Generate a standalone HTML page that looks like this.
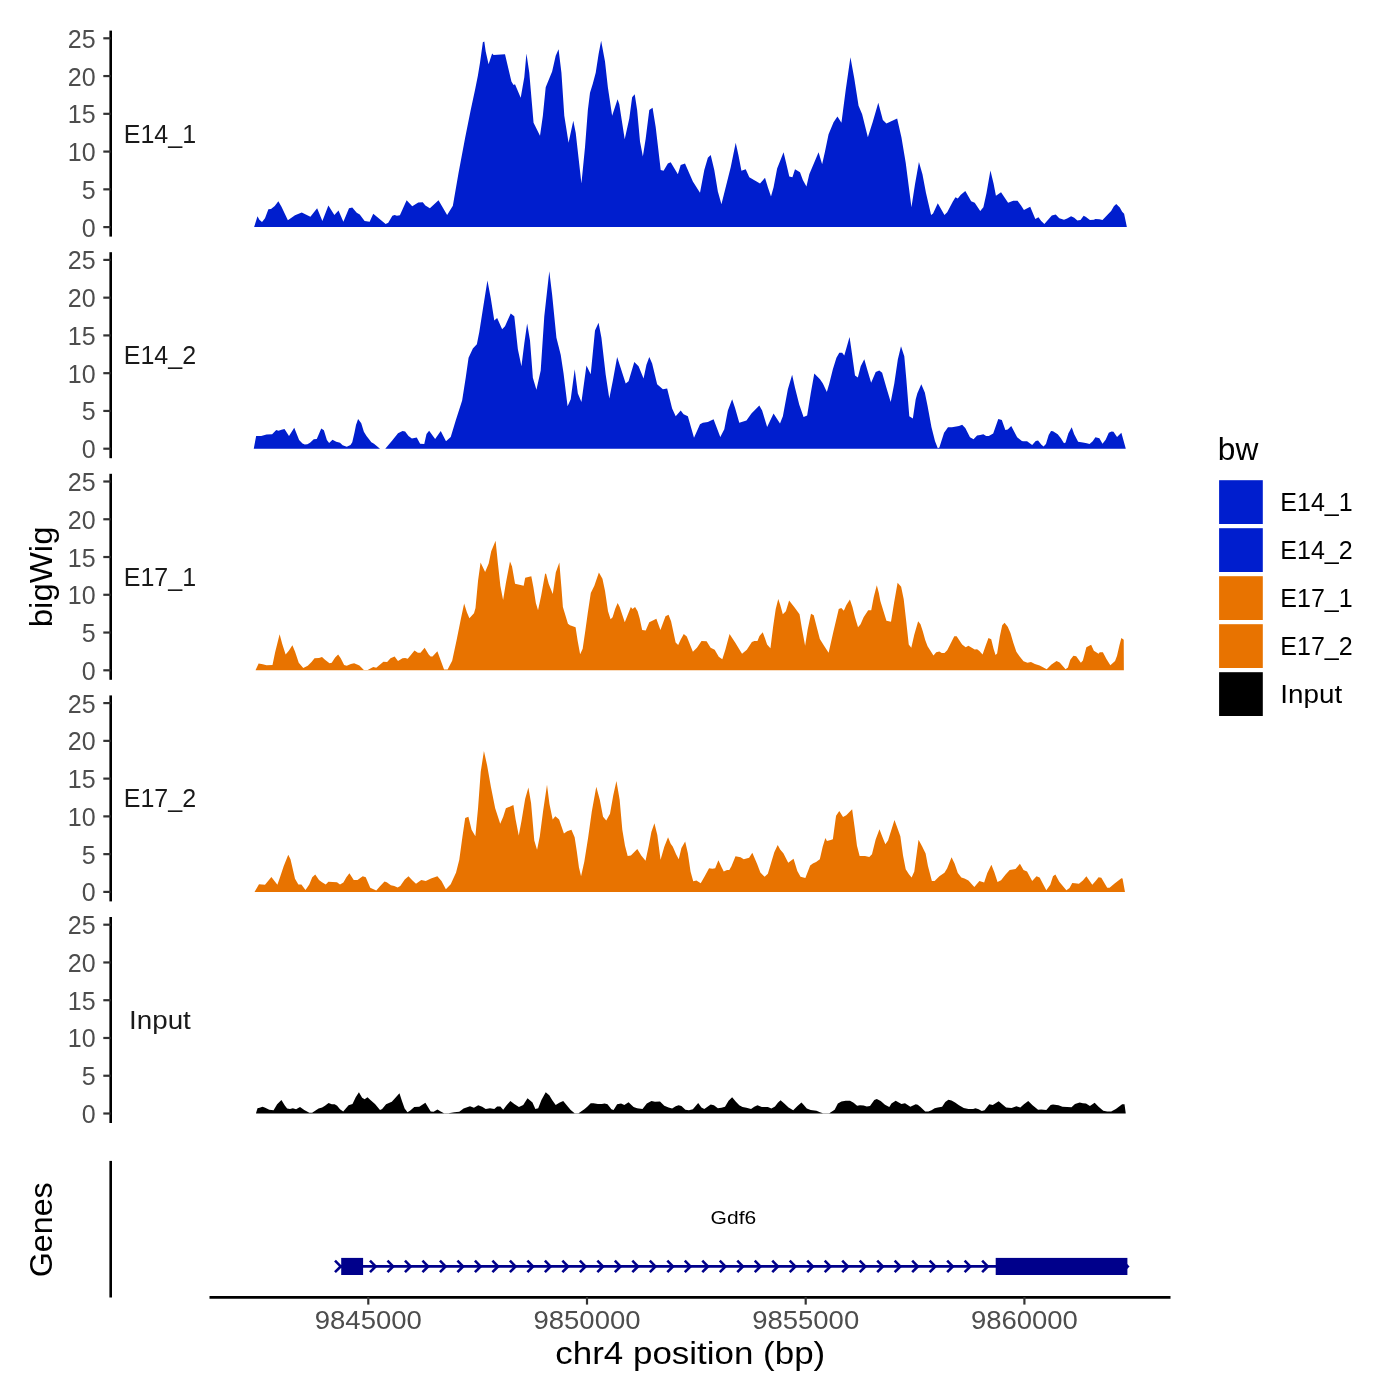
<!DOCTYPE html>
<html><head><meta charset="utf-8"><style>html,body{margin:0;padding:0;background:#fff;}svg{display:block;will-change:transform;}</style></head>
<body><svg width="1400" height="1400" viewBox="0 0 1400 1400">
<rect width="1400" height="1400" fill="#ffffff"/>
<path d="M254.13,227.10 L254.13,227.10 L257.50,216.15 L259.38,219.75 L262.00,222.00 L265.00,218.25 L268.38,209.25 L271.00,208.88 L274.75,205.88 L278.35,201.23 L281.50,206.63 L287.88,220.13 L295.00,215.25 L301.75,212.40 L310.38,216.75 L317.13,208.35 L322.38,220.88 L328.38,205.50 L334.38,214.88 L338.50,210.38 L343.38,221.63 L349.00,208.35 L352.25,207.38 L356.75,212.63 L359.75,214.50 L364.63,221.10 L369.65,221.85 L373.25,213.75 L385.63,223.88 L388.25,222.75 L392.38,215.63 L394.63,214.88 L396.88,215.85 L399.88,215.25 L406.63,200.25 L412.25,206.25 L418.25,202.50 L422.75,202.35 L425.38,205.50 L429.88,208.35 L438.50,200.25 L447.14,215.00 L452.86,205.71 L458.57,172.86 L465.00,138.57 L470.71,110.00 L475.00,90.00 L477.86,75.71 L480.00,62.86 L482.86,42.14 L484.29,41.43 L485.71,51.43 L488.57,64.29 L492.14,53.57 L493.57,55.00 L505.00,54.29 L511.43,81.43 L513.57,85.00 L515.00,84.29 L520.71,97.86 L524.29,77.14 L526.43,53.57 L529.29,72.86 L533.57,122.86 L540.00,135.71 L542.86,115.71 L545.71,87.14 L552.14,71.43 L555.71,55.71 L558.57,49.29 L561.43,72.86 L564.29,115.71 L568.57,142.86 L573.29,120.71 L575.71,132.86 L581.43,183.57 L585.00,147.14 L587.86,110.00 L590.00,92.86 L592.86,83.57 L595.71,72.86 L598.57,54.29 L601.14,40.71 L605.00,61.43 L607.86,87.14 L612.14,115.71 L617.57,99.29 L619.29,104.29 L624.71,139.29 L629.29,118.57 L632.14,97.14 L634.71,94.29 L637.14,110.00 L640.00,141.43 L642.86,156.43 L645.71,138.57 L649.29,110.00 L652.57,107.86 L655.71,127.14 L660.71,170.00 L663.57,170.71 L667.86,163.57 L670.71,162.14 L677.86,174.29 L680.71,165.00 L685.00,163.57 L692.86,181.43 L700.00,192.86 L704.29,170.00 L707.86,157.86 L710.71,155.00 L714.29,170.00 L717.86,191.43 L721.43,204.29 L730.71,167.14 L735.71,142.86 L738.57,155.71 L741.43,170.71 L745.71,169.29 L749.29,177.14 L760.00,183.57 L765.00,177.86 L767.86,187.14 L771.00,196.43 L773.57,187.14 L777.14,168.57 L783.57,152.14 L786.43,164.29 L789.29,176.43 L792.43,177.14 L795.00,169.29 L800.00,172.14 L802.86,180.00 L806.43,186.43 L809.29,174.29 L818.57,152.14 L822.14,164.29 L825.00,151.43 L828.57,134.29 L833.57,122.14 L837.43,116.43 L841.43,122.86 L845.71,90.00 L850.43,57.14 L854.29,78.57 L858.57,105.71 L862.14,114.29 L867.86,137.14 L872.86,121.43 L878.29,102.86 L882.86,120.00 L886.43,123.57 L897.14,118.57 L901.43,137.14 L905.71,162.86 L911.43,207.14 L915.00,184.29 L918.93,161.96 L922.46,174.14 L926.00,193.00 L931.11,215.00 L933.07,213.43 L937.79,203.22 L944.46,215.00 L947.21,212.25 L952.72,201.64 L955.47,197.32 L957.82,198.50 L960.57,194.97 L965.29,191.04 L971.18,201.25 L974.72,202.82 L980.22,211.07 L983.36,207.14 L986.50,193.00 L990.43,170.61 L993.57,183.57 L995.93,195.75 L1001.04,192.21 L1008.11,202.82 L1013.22,200.86 L1017.54,200.70 L1021.07,205.57 L1023.93,209.89 L1030.21,206.75 L1035.32,218.93 L1038.46,217.36 L1041.21,220.89 L1044.36,224.04 L1051.82,215.39 L1055.75,214.61 L1059.29,218.14 L1064.00,219.72 L1067.14,218.54 L1071.07,216.18 L1074.22,217.75 L1077.36,220.50 L1080.50,220.11 L1083.64,215.79 L1086.00,216.97 L1089.93,220.11 L1093.86,219.72 L1095.43,219.09 L1099.36,219.32 L1102.50,220.11 L1111.14,211.07 L1113.89,206.36 L1116.25,204.00 L1119.79,207.54 L1122.15,211.86 L1124.11,213.82 L1126.86,227.10 L1126.86,227.10 Z" fill="#001ECE"/>
<line x1="110.7" y1="30.6" x2="110.7" y2="236.6" stroke="#000" stroke-width="2.6"/>
<line x1="103.3" y1="227.10" x2="110.7" y2="227.10" stroke="#333" stroke-width="2.2"/>
<text x="95.6" y="236.60" font-family="Liberation Sans, sans-serif" font-size="25.0" fill="#4d4d4d" text-anchor="end">0</text>
<line x1="103.3" y1="189.34" x2="110.7" y2="189.34" stroke="#333" stroke-width="2.2"/>
<text x="95.6" y="198.84" font-family="Liberation Sans, sans-serif" font-size="25.0" fill="#4d4d4d" text-anchor="end">5</text>
<line x1="103.3" y1="151.58" x2="110.7" y2="151.58" stroke="#333" stroke-width="2.2"/>
<text x="95.6" y="161.08" font-family="Liberation Sans, sans-serif" font-size="25.0" fill="#4d4d4d" text-anchor="end">10</text>
<line x1="103.3" y1="113.82" x2="110.7" y2="113.82" stroke="#333" stroke-width="2.2"/>
<text x="95.6" y="123.32" font-family="Liberation Sans, sans-serif" font-size="25.0" fill="#4d4d4d" text-anchor="end">15</text>
<line x1="103.3" y1="76.06" x2="110.7" y2="76.06" stroke="#333" stroke-width="2.2"/>
<text x="95.6" y="85.56" font-family="Liberation Sans, sans-serif" font-size="25.0" fill="#4d4d4d" text-anchor="end">20</text>
<line x1="103.3" y1="38.30" x2="110.7" y2="38.30" stroke="#333" stroke-width="2.2"/>
<text x="95.6" y="47.80" font-family="Liberation Sans, sans-serif" font-size="25.0" fill="#4d4d4d" text-anchor="end">25</text>
<text x="159.9" y="142.50" font-family="Liberation Sans, sans-serif" font-size="26" fill="#1a1a1a" text-anchor="middle" textLength="72.3" lengthAdjust="spacingAndGlyphs">E14_1</text>
<path d="M253.75,448.70 L253.75,448.63 L256.15,435.88 L261.25,436.10 L263.88,435.13 L266.50,434.38 L272.13,434.15 L276.25,429.88 L278.50,430.63 L281.50,429.65 L284.50,428.90 L289.00,435.88 L294.25,427.63 L299.13,440.00 L302.50,443.38 L304.75,444.50 L307.38,444.13 L310.00,442.63 L313.75,439.25 L316.75,438.88 L321.25,428.38 L323.88,430.25 L326.88,440.00 L329.13,443.00 L332.50,439.85 L336.25,441.65 L340.00,442.85 L342.63,445.25 L346.75,446.75 L350.50,444.88 L352.25,442.25 L354.50,432.50 L356.00,425.00 L358.10,419.00 L361.25,423.13 L363.88,431.75 L366.50,435.88 L371.38,442.25 L374.00,443.75 L380.00,448.63 L385.25,448.63 L392.00,440.75 L398.00,433.25 L402.50,431.00 L405.13,431.38 L408.50,435.88 L411.88,438.50 L416.75,437.38 L420.13,443.75 L424.25,443.90 L426.50,434.00 L429.13,430.63 L435.13,438.88 L440.75,431.00 L446.00,441.29 L450.71,437.00 L455.71,420.57 L462.14,400.57 L465.71,377.71 L468.57,357.71 L472.86,348.43 L476.86,344.14 L479.29,332.00 L482.86,309.14 L487.43,280.57 L490.71,297.71 L494.29,320.57 L497.14,318.00 L502.14,329.14 L505.00,326.29 L510.71,313.43 L514.29,316.29 L517.86,349.14 L521.43,366.29 L524.29,343.43 L527.14,323.43 L530.00,340.57 L532.86,377.71 L536.43,389.86 L540.71,370.57 L544.29,316.29 L549.29,271.29 L552.14,294.86 L556.43,337.71 L560.71,354.86 L563.57,373.43 L567.57,406.29 L570.71,399.14 L574.71,369.14 L577.86,393.43 L581.43,402.00 L586.43,365.57 L590.71,374.14 L595.00,330.57 L598.57,322.71 L601.43,337.71 L605.71,374.86 L609.29,398.43 L612.86,380.57 L617.14,357.00 L625.71,383.43 L628.57,381.29 L634.29,362.00 L638.57,366.29 L643.57,378.43 L646.43,364.86 L649.29,357.00 L652.14,363.43 L657.14,384.14 L662.86,389.14 L667.14,388.43 L672.14,408.43 L675.71,416.29 L680.71,410.57 L683.57,414.14 L687.86,416.29 L694.00,437.71 L700.00,424.14 L702.86,422.71 L707.86,422.00 L713.57,419.14 L720.29,437.00 L724.29,429.14 L727.86,410.57 L732.14,399.14 L735.00,407.71 L739.29,422.71 L746.43,420.57 L751.43,413.43 L759.29,405.57 L762.14,410.57 L767.14,427.00 L773.57,413.43 L780.00,423.43 L782.86,416.29 L787.86,389.14 L792.14,374.86 L795.00,387.71 L799.29,404.86 L803.57,417.00 L807.14,415.57 L810.71,393.43 L814.29,373.43 L820.00,379.14 L822.86,383.43 L826.86,392.00 L829.29,383.43 L832.86,369.14 L836.43,357.71 L839.29,352.71 L842.14,352.71 L844.29,355.57 L849.57,337.00 L852.14,354.86 L855.00,375.57 L857.86,377.43 L860.71,366.29 L864.29,359.14 L867.14,369.14 L871.14,382.71 L875.71,372.00 L879.29,370.57 L882.14,372.71 L886.43,387.71 L890.71,402.00 L894.29,383.43 L897.86,359.14 L901.00,346.29 L904.29,356.29 L906.43,380.57 L909.29,416.29 L912.86,418.43 L915.71,399.14 L917.36,393.36 L921.29,384.32 L924.82,392.57 L927.57,405.93 L931.50,427.14 L935.04,441.29 L937.79,448.36 L939.36,447.57 L944.07,432.64 L948.00,427.14 L951.93,427.14 L959.00,425.97 L962.14,424.63 L965.29,427.93 L970.00,437.36 L973.54,439.32 L977.07,435.39 L980.22,435.00 L983.36,434.22 L986.11,435.94 L988.86,435.94 L993.18,433.43 L998.29,418.89 L1001.82,420.07 L1005.36,429.89 L1007.72,429.50 L1011.25,425.97 L1017.15,437.36 L1021.86,440.89 L1023.14,441.13 L1027.07,441.29 L1032.18,445.06 L1035.71,440.89 L1038.07,440.50 L1041.21,444.43 L1043.57,446.39 L1045.93,444.04 L1048.68,435.00 L1051.04,431.07 L1053.00,431.23 L1057.72,434.22 L1060.86,438.14 L1064.00,443.25 L1065.57,442.47 L1068.32,433.43 L1071.70,427.14 L1074.22,434.22 L1078.14,441.68 L1082.86,442.47 L1086.79,443.25 L1089.54,444.04 L1092.68,441.29 L1095.43,437.36 L1099.36,438.14 L1102.50,443.64 L1105.64,439.72 L1108.79,432.64 L1111.54,431.47 L1113.50,431.86 L1117.04,436.97 L1121.36,432.64 L1125.68,448.36 L1125.68,448.70 Z" fill="#001ECE"/>
<line x1="110.7" y1="252.2" x2="110.7" y2="458.2" stroke="#000" stroke-width="2.6"/>
<line x1="103.3" y1="448.70" x2="110.7" y2="448.70" stroke="#333" stroke-width="2.2"/>
<text x="95.6" y="458.20" font-family="Liberation Sans, sans-serif" font-size="25.0" fill="#4d4d4d" text-anchor="end">0</text>
<line x1="103.3" y1="410.94" x2="110.7" y2="410.94" stroke="#333" stroke-width="2.2"/>
<text x="95.6" y="420.44" font-family="Liberation Sans, sans-serif" font-size="25.0" fill="#4d4d4d" text-anchor="end">5</text>
<line x1="103.3" y1="373.18" x2="110.7" y2="373.18" stroke="#333" stroke-width="2.2"/>
<text x="95.6" y="382.68" font-family="Liberation Sans, sans-serif" font-size="25.0" fill="#4d4d4d" text-anchor="end">10</text>
<line x1="103.3" y1="335.42" x2="110.7" y2="335.42" stroke="#333" stroke-width="2.2"/>
<text x="95.6" y="344.92" font-family="Liberation Sans, sans-serif" font-size="25.0" fill="#4d4d4d" text-anchor="end">15</text>
<line x1="103.3" y1="297.66" x2="110.7" y2="297.66" stroke="#333" stroke-width="2.2"/>
<text x="95.6" y="307.16" font-family="Liberation Sans, sans-serif" font-size="25.0" fill="#4d4d4d" text-anchor="end">20</text>
<line x1="103.3" y1="259.90" x2="110.7" y2="259.90" stroke="#333" stroke-width="2.2"/>
<text x="95.6" y="269.40" font-family="Liberation Sans, sans-serif" font-size="25.0" fill="#4d4d4d" text-anchor="end">25</text>
<text x="159.9" y="364.10" font-family="Liberation Sans, sans-serif" font-size="26" fill="#1a1a1a" text-anchor="middle" textLength="72.3" lengthAdjust="spacingAndGlyphs">E14_2</text>
<path d="M255.63,670.30 L255.63,669.88 L258.63,663.50 L262.75,664.25 L266.50,665.23 L272.50,665.00 L275.13,652.25 L279.63,634.25 L282.25,644.00 L285.63,654.50 L289.00,650.38 L292.38,645.13 L295.00,651.50 L298.75,662.75 L303.25,668.00 L307.75,665.75 L311.50,662.00 L314.50,658.25 L319.00,658.10 L322.00,656.90 L325.00,659.75 L329.50,663.35 L331.75,662.75 L335.13,657.50 L338.13,654.50 L340.75,658.25 L344.13,665.00 L346.75,665.75 L350.88,663.88 L354.13,663.35 L359.38,665.38 L363.88,669.88 L367.63,669.88 L373.25,666.88 L376.25,667.63 L383.38,661.85 L387.13,662.00 L390.50,658.25 L394.63,656.38 L398.00,661.10 L402.50,658.25 L405.13,657.88 L407.75,658.63 L414.50,650.38 L417.88,652.63 L420.50,652.63 L424.63,647.75 L428.75,654.50 L430.63,656.38 L432.50,656.38 L437.38,651.13 L444.06,669.47 L447.61,669.47 L452.17,660.84 L456.74,639.54 L460.79,619.26 L464.14,603.54 L466.88,612.16 L469.41,618.24 L473.98,613.17 L475.50,608.10 L478.04,580.72 L480.57,562.46 L485.14,572.09 L488.69,563.47 L491.22,551.30 L495.58,540.65 L497.82,562.46 L500.35,585.79 L503.09,599.99 L505.93,582.74 L509.99,561.44 L512.02,566.51 L515.06,583.76 L523.68,585.79 L525.20,577.67 L531.29,576.15 L533.32,586.80 L535.85,603.03 L538.04,610.13 L541.09,595.93 L545.14,573.61 L546.16,574.12 L548.69,583.76 L552.75,593.90 L555.79,572.60 L559.34,562.46 L561.37,586.80 L562.89,607.09 L567.96,623.82 L569.99,625.34 L575.57,627.37 L577.60,640.56 L580.14,654.25 L582.67,648.67 L585.21,631.43 L587.74,613.17 L590.79,592.89 L594.34,585.79 L598.90,572.60 L602.45,578.69 L604.99,590.86 L608.03,611.14 L610.57,619.26 L612.59,617.23 L615.13,609.12 L617.67,603.03 L619.69,607.09 L624.77,622.30 L630.85,607.09 L632.54,609.12 L635.07,607.09 L637.61,611.14 L639.64,618.24 L642.17,629.91 L645.72,630.42 L649.27,622.30 L656.37,618.75 L660.43,629.91 L665.50,616.22 L668.54,614.69 L671.08,621.29 L675.64,642.59 L678.18,645.12 L680.72,639.54 L683.76,633.97 L686.80,636.50 L692.89,651.72 L696.94,647.66 L701.51,641.07 L706.58,641.37 L710.64,647.66 L714.69,649.69 L718.75,656.79 L722.30,659.32 L725.34,649.69 L729.56,633.97 L735.14,642.59 L742.04,653.74 L746.81,649.69 L751.88,642.08 L754.41,641.07 L757.46,641.07 L759.49,635.99 L762.73,632.24 L765.06,638.53 L767.09,644.62 L770.44,648.17 L773.18,626.36 L775.72,609.12 L778.25,598.97 L780.28,605.06 L782.82,614.19 L785.86,611.14 L789.10,600.49 L794.99,608.10 L799.55,614.19 L802.09,629.40 L805.13,645.63 L807.67,629.40 L811.01,613.68 L813.75,615.20 L816.79,627.37 L819.84,639.04 L824.06,645.63 L828.62,652.73 L833.19,632.44 L838.76,609.12 L841.30,608.10 L843.84,610.64 L846.37,605.06 L849.92,599.48 L852.46,607.09 L854.99,617.23 L858.04,627.37 L860.57,624.33 L863.61,617.23 L868.18,610.13 L871.22,610.13 L873.76,596.94 L876.80,585.28 L878.83,592.89 L880.35,601.00 L886.44,620.78 L891.00,621.79 L894.04,603.03 L897.59,582.74 L901.14,586.80 L903.68,598.97 L906.22,621.29 L908.75,644.62 L911.29,647.66 L914.33,634.47 L918.14,621.21 L920.50,624.36 L922.86,631.43 L925.21,640.07 L927.57,646.36 L933.46,655.39 L936.21,652.25 L939.36,651.47 L941.71,653.04 L944.46,653.04 L947.21,650.29 L951.14,642.43 L954.29,636.14 L956.64,636.14 L962.14,644.39 L965.68,647.14 L968.43,645.73 L974.72,649.50 L977.07,649.34 L979.43,651.07 L982.57,654.61 L985.72,645.57 L988.47,638.11 L991.22,639.29 L993.57,648.72 L995.54,655.00 L997.11,653.43 L999.86,636.14 L1002.22,625.14 L1004.57,622.79 L1007.72,626.71 L1010.47,633.00 L1013.22,642.43 L1016.36,651.86 L1019.50,656.18 L1023.54,661.29 L1027.46,662.70 L1031.00,662.07 L1034.93,664.04 L1039.64,665.61 L1046.71,669.14 L1051.43,664.43 L1056.54,660.89 L1059.68,662.47 L1065.57,669.14 L1067.93,667.57 L1070.29,659.72 L1073.43,655.79 L1076.18,656.18 L1080.89,662.86 L1082.86,660.50 L1086.39,647.14 L1091.11,644.79 L1093.86,650.68 L1098.57,653.82 L1099.75,652.25 L1102.89,652.25 L1106.43,658.93 L1110.36,665.22 L1115.07,660.89 L1117.04,655.79 L1119.39,645.57 L1121.36,638.11 L1123.72,639.68 L1123.87,669.93 L1123.87,670.30 Z" fill="#E87300"/>
<line x1="110.7" y1="473.8" x2="110.7" y2="679.8" stroke="#000" stroke-width="2.6"/>
<line x1="103.3" y1="670.30" x2="110.7" y2="670.30" stroke="#333" stroke-width="2.2"/>
<text x="95.6" y="679.80" font-family="Liberation Sans, sans-serif" font-size="25.0" fill="#4d4d4d" text-anchor="end">0</text>
<line x1="103.3" y1="632.54" x2="110.7" y2="632.54" stroke="#333" stroke-width="2.2"/>
<text x="95.6" y="642.04" font-family="Liberation Sans, sans-serif" font-size="25.0" fill="#4d4d4d" text-anchor="end">5</text>
<line x1="103.3" y1="594.78" x2="110.7" y2="594.78" stroke="#333" stroke-width="2.2"/>
<text x="95.6" y="604.28" font-family="Liberation Sans, sans-serif" font-size="25.0" fill="#4d4d4d" text-anchor="end">10</text>
<line x1="103.3" y1="557.02" x2="110.7" y2="557.02" stroke="#333" stroke-width="2.2"/>
<text x="95.6" y="566.52" font-family="Liberation Sans, sans-serif" font-size="25.0" fill="#4d4d4d" text-anchor="end">15</text>
<line x1="103.3" y1="519.26" x2="110.7" y2="519.26" stroke="#333" stroke-width="2.2"/>
<text x="95.6" y="528.76" font-family="Liberation Sans, sans-serif" font-size="25.0" fill="#4d4d4d" text-anchor="end">20</text>
<line x1="103.3" y1="481.50" x2="110.7" y2="481.50" stroke="#333" stroke-width="2.2"/>
<text x="95.6" y="491.00" font-family="Liberation Sans, sans-serif" font-size="25.0" fill="#4d4d4d" text-anchor="end">25</text>
<text x="159.9" y="585.70" font-family="Liberation Sans, sans-serif" font-size="26" fill="#1a1a1a" text-anchor="middle" textLength="72.3" lengthAdjust="spacingAndGlyphs">E17_1</text>
<path d="M254.65,891.90 L254.65,891.65 L259.00,884.15 L265.00,884.75 L271.38,876.88 L277.38,884.75 L280.00,877.25 L283.75,866.00 L288.25,854.75 L290.50,859.25 L295.00,878.75 L298.38,884.60 L301.38,884.38 L305.50,890.00 L309.25,884.38 L312.25,877.25 L315.25,874.40 L319.00,879.88 L322.00,882.13 L325.75,884.38 L328.38,881.75 L337.00,882.13 L340.00,884.38 L343.38,882.50 L346.38,877.25 L349.38,873.35 L353.75,879.88 L357.50,879.88 L362.75,876.13 L365.75,877.25 L370.25,887.75 L376.25,890.60 L380.00,886.25 L384.50,881.38 L386.75,882.13 L390.88,885.13 L394.25,885.88 L397.63,887.38 L400.25,885.88 L404.75,879.50 L408.50,876.35 L412.25,880.25 L416.00,883.63 L421.25,879.88 L425.75,881.00 L431.00,878.60 L437.38,876.13 L441.50,881.00 L445.89,889.18 L450.71,884.36 L456.07,872.58 L459.29,859.72 L462.50,836.15 L465.18,817.93 L468.39,816.86 L471.61,829.72 L475.36,836.15 L478.04,808.29 L480.72,771.86 L483.93,750.96 L487.14,765.43 L490.89,786.86 L495.18,808.29 L500.22,823.82 L503.22,816.86 L505.90,808.29 L513.40,805.07 L515.54,819.00 L518.75,835.61 L521.43,821.15 L525.18,798.64 L528.40,787.39 L531.07,802.93 L534.29,840.43 L536.97,849.54 L537.14,849.54 L539.82,836.15 L543.04,811.50 L547.00,784.72 L549.46,804.00 L552.68,819.54 L555.36,816.32 L559.11,819.54 L563.93,833.47 L567.14,831.32 L571.43,829.72 L574.64,837.22 L576.79,851.15 L578.93,867.22 L581.07,876.33 L584.29,861.86 L588.04,838.29 L591.79,811.50 L596.29,786.86 L599.82,799.72 L603.04,816.86 L606.25,820.61 L610.00,813.65 L613.22,795.43 L616.43,780.97 L619.65,799.72 L622.32,829.72 L625.00,845.79 L627.68,855.97 L630.90,855.43 L632.14,854.36 L637.29,849.00 L641.25,855.43 L645.54,860.79 L648.75,845.79 L651.43,831.86 L654.43,823.29 L657.32,835.07 L660.54,859.72 L664.29,846.86 L668.04,837.22 L670.72,843.65 L672.86,846.86 L676.07,854.36 L678.75,859.18 L681.43,847.93 L685.18,841.50 L687.86,853.29 L690.54,871.50 L693.22,881.15 L696.43,880.61 L700.72,883.29 L705.00,875.79 L709.07,868.29 L712.50,868.83 L715.18,868.29 L718.40,860.25 L721.61,867.22 L723.75,871.50 L726.43,870.22 L727.14,869.90 L729.29,869.90 L731.43,866.15 L735.50,856.29 L740.54,857.36 L743.75,859.18 L749.11,857.79 L752.32,852.75 L757.14,864.00 L760.36,872.58 L764.64,876.86 L767.86,873.65 L771.07,862.93 L774.29,852.22 L777.72,844.93 L780.18,849.54 L783.39,853.29 L788.22,862.72 L793.57,858.86 L797.32,870.97 L800.54,876.86 L805.36,877.93 L810.18,865.61 L812.86,863.47 L816.07,862.08 L819.82,859.18 L822.68,846.86 L825.36,838.07 L826.96,840.97 L830.71,839.90 L832.86,839.36 L836.07,815.79 L839.29,810.97 L843.04,817.07 L846.25,815.25 L852.14,809.36 L854.82,828.65 L856.97,845.79 L859.64,855.97 L865.00,855.97 L869.29,857.04 L871.97,854.36 L875.72,839.36 L879.47,829.18 L882.15,836.15 L885.36,844.18 L888.04,840.43 L894.47,820.07 L897.68,828.65 L900.36,836.15 L903.04,855.43 L905.72,869.36 L908.93,874.18 L911.61,877.40 L914.29,871.50 L916.97,851.15 L918.54,839.68 L922.07,846.36 L925.61,853.43 L927.96,866.00 L931.89,880.93 L934.64,881.09 L939.36,876.22 L944.46,872.68 L947.21,868.36 L951.54,857.36 L954.68,863.64 L957.82,873.07 L961.36,877.39 L964.50,878.57 L968.43,880.54 L974.32,887.06 L979.43,881.09 L984.14,882.50 L987.29,873.07 L991.37,864.82 L994.36,872.29 L997.50,882.11 L1001.04,880.14 L1005.36,874.64 L1009.68,870.09 L1015.57,868.99 L1019.90,863.64 L1023.54,869.93 L1027.07,871.50 L1032.18,880.93 L1036.50,876.22 L1039.64,877.39 L1046.32,890.36 L1050.25,884.86 L1053.00,876.22 L1055.36,874.49 L1059.29,881.72 L1066.36,890.20 L1069.50,888.00 L1072.25,882.89 L1075.00,883.13 L1078.93,883.68 L1082.86,880.54 L1086.39,876.22 L1092.29,884.86 L1096.22,880.14 L1098.57,877.16 L1101.32,877.79 L1107.22,887.84 L1109.57,887.84 L1114.29,883.68 L1121.36,878.18 L1122.54,878.57 L1124.90,891.54 L1124.90,891.90 Z" fill="#E87300"/>
<line x1="110.7" y1="695.4" x2="110.7" y2="901.4" stroke="#000" stroke-width="2.6"/>
<line x1="103.3" y1="891.90" x2="110.7" y2="891.90" stroke="#333" stroke-width="2.2"/>
<text x="95.6" y="901.40" font-family="Liberation Sans, sans-serif" font-size="25.0" fill="#4d4d4d" text-anchor="end">0</text>
<line x1="103.3" y1="854.14" x2="110.7" y2="854.14" stroke="#333" stroke-width="2.2"/>
<text x="95.6" y="863.64" font-family="Liberation Sans, sans-serif" font-size="25.0" fill="#4d4d4d" text-anchor="end">5</text>
<line x1="103.3" y1="816.38" x2="110.7" y2="816.38" stroke="#333" stroke-width="2.2"/>
<text x="95.6" y="825.88" font-family="Liberation Sans, sans-serif" font-size="25.0" fill="#4d4d4d" text-anchor="end">10</text>
<line x1="103.3" y1="778.62" x2="110.7" y2="778.62" stroke="#333" stroke-width="2.2"/>
<text x="95.6" y="788.12" font-family="Liberation Sans, sans-serif" font-size="25.0" fill="#4d4d4d" text-anchor="end">15</text>
<line x1="103.3" y1="740.86" x2="110.7" y2="740.86" stroke="#333" stroke-width="2.2"/>
<text x="95.6" y="750.36" font-family="Liberation Sans, sans-serif" font-size="25.0" fill="#4d4d4d" text-anchor="end">20</text>
<line x1="103.3" y1="703.10" x2="110.7" y2="703.10" stroke="#333" stroke-width="2.2"/>
<text x="95.6" y="712.60" font-family="Liberation Sans, sans-serif" font-size="25.0" fill="#4d4d4d" text-anchor="end">25</text>
<text x="159.9" y="807.30" font-family="Liberation Sans, sans-serif" font-size="26" fill="#1a1a1a" text-anchor="middle" textLength="72.3" lengthAdjust="spacingAndGlyphs">E17_2</text>
<path d="M256.07,1113.50 L256.07,1113.00 L257.50,1108.21 L259.64,1107.86 L262.50,1106.79 L264.64,1107.50 L269.29,1109.86 L273.57,1110.36 L277.14,1104.29 L281.43,1100.00 L284.64,1105.36 L287.14,1108.57 L290.00,1108.93 L292.86,1108.21 L296.07,1109.29 L300.00,1107.00 L304.29,1110.00 L309.29,1112.86 L312.14,1112.86 L318.57,1108.57 L322.14,1107.50 L325.00,1105.71 L328.57,1103.00 L331.79,1104.14 L334.64,1104.29 L337.14,1105.86 L340.00,1109.29 L343.21,1111.43 L348.57,1105.36 L352.50,1103.93 L355.71,1097.14 L358.93,1092.14 L362.14,1097.86 L364.64,1099.14 L367.50,1097.14 L370.71,1100.36 L375.00,1103.93 L380.00,1110.00 L382.14,1108.93 L386.07,1104.29 L391.79,1101.79 L395.00,1098.21 L399.43,1093.21 L402.14,1101.43 L404.64,1108.57 L407.50,1112.14 L410.00,1110.71 L414.29,1107.00 L419.29,1106.79 L425.36,1102.86 L430.71,1111.43 L433.57,1111.79 L437.50,1109.43 L440.71,1111.43 L443.93,1113.21 L448.57,1113.21 L454.29,1112.29 L459.29,1111.79 L463.57,1108.57 L470.00,1106.29 L473.93,1107.86 L478.21,1105.14 L482.14,1106.79 L485.71,1108.93 L490.00,1108.21 L494.29,1108.93 L497.14,1106.43 L500.36,1106.57 L503.21,1109.64 L506.79,1105.00 L510.36,1101.07 L514.64,1104.29 L518.93,1107.00 L523.21,1105.00 L527.50,1098.21 L532.50,1102.50 L535.36,1108.93 L538.21,1108.21 L541.43,1100.00 L545.71,1092.14 L549.29,1095.36 L552.14,1100.00 L555.71,1105.00 L559.29,1102.71 L563.21,1101.07 L567.14,1105.71 L570.71,1110.00 L574.64,1113.21 L578.57,1113.21 L584.29,1109.29 L587.50,1106.43 L590.71,1103.21 L593.57,1103.21 L597.86,1103.93 L601.79,1103.93 L604.64,1103.43 L607.50,1104.29 L611.43,1109.29 L613.57,1110.00 L617.14,1104.29 L621.07,1103.57 L624.29,1105.00 L628.57,1102.29 L633.57,1107.00 L637.14,1108.21 L642.50,1108.93 L646.79,1103.57 L651.43,1101.07 L655.00,1101.79 L660.00,1101.43 L664.29,1105.71 L668.57,1107.50 L672.14,1108.57 L675.71,1106.29 L678.57,1105.14 L681.43,1106.07 L685.36,1109.64 L688.93,1110.36 L692.86,1109.29 L698.21,1103.00 L701.43,1107.50 L704.29,1108.93 L707.86,1106.43 L710.71,1104.43 L713.93,1105.36 L717.86,1108.21 L721.43,1107.86 L725.00,1106.79 L728.57,1100.71 L732.14,1097.14 L735.71,1101.43 L739.29,1105.36 L742.50,1107.00 L746.43,1107.86 L751.07,1108.93 L754.29,1106.79 L757.50,1105.14 L761.79,1107.00 L767.86,1107.00 L771.43,1108.57 L775.00,1106.43 L777.86,1102.86 L780.57,1100.36 L784.29,1103.57 L788.57,1107.50 L793.21,1110.36 L797.50,1106.07 L801.43,1102.50 L803.57,1104.64 L806.79,1108.57 L810.71,1110.00 L816.43,1110.86 L820.00,1112.14 L822.86,1113.21 L829.29,1113.21 L834.64,1109.64 L837.86,1103.57 L841.43,1101.43 L845.71,1100.71 L850.00,1100.86 L853.57,1102.86 L857.14,1105.86 L860.00,1105.36 L863.57,1105.57 L866.79,1106.57 L870.00,1106.07 L874.29,1100.00 L876.79,1098.93 L880.71,1101.07 L885.00,1104.64 L889.29,1107.00 L891.43,1103.57 L895.71,1100.71 L901.43,1103.93 L905.00,1103.21 L910.36,1106.79 L915.71,1104.29 L917.75,1104.75 L920.50,1107.11 L925.21,1111.43 L928.36,1111.43 L931.50,1110.25 L934.64,1108.29 L937.79,1107.50 L942.11,1106.71 L945.25,1102.00 L948.39,1099.80 L951.54,1100.59 L955.07,1102.39 L959.00,1105.14 L963.72,1107.89 L968.43,1108.91 L973.14,1108.91 L975.50,1108.29 L978.64,1109.23 L981.79,1111.04 L984.54,1110.25 L989.25,1104.36 L992.79,1104.99 L998.68,1101.37 L1002.22,1104.36 L1006.14,1107.50 L1011.64,1107.89 L1016.36,1106.32 L1020.29,1107.50 L1023.93,1104.36 L1028.25,1101.06 L1032.57,1105.14 L1038.07,1109.70 L1041.21,1109.46 L1046.32,1110.01 L1050.64,1104.99 L1053.00,1104.51 L1058.50,1105.14 L1062.43,1106.87 L1067.14,1107.11 L1071.47,1107.34 L1075.00,1103.96 L1079.72,1102.39 L1082.86,1103.18 L1086.00,1103.41 L1089.93,1105.93 L1094.64,1102.63 L1098.57,1106.71 L1103.29,1110.64 L1107.22,1111.59 L1111.14,1111.59 L1115.86,1109.07 L1122.15,1104.20 L1124.50,1104.36 L1125.68,1112.84 L1125.68,1113.50 Z" fill="#000000"/>
<line x1="110.7" y1="917.0" x2="110.7" y2="1123.0" stroke="#000" stroke-width="2.6"/>
<line x1="103.3" y1="1113.50" x2="110.7" y2="1113.50" stroke="#333" stroke-width="2.2"/>
<text x="95.6" y="1123.00" font-family="Liberation Sans, sans-serif" font-size="25.0" fill="#4d4d4d" text-anchor="end">0</text>
<line x1="103.3" y1="1075.74" x2="110.7" y2="1075.74" stroke="#333" stroke-width="2.2"/>
<text x="95.6" y="1085.24" font-family="Liberation Sans, sans-serif" font-size="25.0" fill="#4d4d4d" text-anchor="end">5</text>
<line x1="103.3" y1="1037.98" x2="110.7" y2="1037.98" stroke="#333" stroke-width="2.2"/>
<text x="95.6" y="1047.48" font-family="Liberation Sans, sans-serif" font-size="25.0" fill="#4d4d4d" text-anchor="end">10</text>
<line x1="103.3" y1="1000.22" x2="110.7" y2="1000.22" stroke="#333" stroke-width="2.2"/>
<text x="95.6" y="1009.72" font-family="Liberation Sans, sans-serif" font-size="25.0" fill="#4d4d4d" text-anchor="end">15</text>
<line x1="103.3" y1="962.46" x2="110.7" y2="962.46" stroke="#333" stroke-width="2.2"/>
<text x="95.6" y="971.96" font-family="Liberation Sans, sans-serif" font-size="25.0" fill="#4d4d4d" text-anchor="end">20</text>
<line x1="103.3" y1="924.70" x2="110.7" y2="924.70" stroke="#333" stroke-width="2.2"/>
<text x="95.6" y="934.20" font-family="Liberation Sans, sans-serif" font-size="25.0" fill="#4d4d4d" text-anchor="end">25</text>
<text x="159.9" y="1028.90" font-family="Liberation Sans, sans-serif" font-size="26" fill="#1a1a1a" text-anchor="middle" textLength="61.8" lengthAdjust="spacingAndGlyphs">Input</text>
<text transform="translate(51.8,576.9) rotate(-90)" font-family="Liberation Sans, sans-serif" font-size="31" fill="#000" text-anchor="middle" textLength="100.75" lengthAdjust="spacingAndGlyphs">bigWig</text>
<text transform="translate(51.8,1229.8) rotate(-90)" font-family="Liberation Sans, sans-serif" font-size="31" fill="#000" text-anchor="middle" textLength="95" lengthAdjust="spacingAndGlyphs">Genes</text>
<line x1="110.7" y1="1160.9" x2="110.7" y2="1297.5" stroke="#000" stroke-width="2.6"/>
<line x1="209.5" y1="1297.35" x2="1170.5" y2="1297.35" stroke="#000" stroke-width="2.6"/>
<line x1="368.3" y1="1297" x2="368.3" y2="1304.6" stroke="#333" stroke-width="2.2"/>
<text x="368.3" y="1328.7" font-family="Liberation Sans, sans-serif" font-size="25" fill="#4d4d4d" text-anchor="middle" textLength="107" lengthAdjust="spacingAndGlyphs">9845000</text>
<line x1="587.0" y1="1297" x2="587.0" y2="1304.6" stroke="#333" stroke-width="2.2"/>
<text x="587.0" y="1328.7" font-family="Liberation Sans, sans-serif" font-size="25" fill="#4d4d4d" text-anchor="middle" textLength="107" lengthAdjust="spacingAndGlyphs">9850000</text>
<line x1="805.7" y1="1297" x2="805.7" y2="1304.6" stroke="#333" stroke-width="2.2"/>
<text x="805.7" y="1328.7" font-family="Liberation Sans, sans-serif" font-size="25" fill="#4d4d4d" text-anchor="middle" textLength="107" lengthAdjust="spacingAndGlyphs">9855000</text>
<line x1="1024.4" y1="1297" x2="1024.4" y2="1304.6" stroke="#333" stroke-width="2.2"/>
<text x="1024.4" y="1328.7" font-family="Liberation Sans, sans-serif" font-size="25" fill="#4d4d4d" text-anchor="middle" textLength="107" lengthAdjust="spacingAndGlyphs">9860000</text>
<text x="690.3" y="1363.9" font-family="Liberation Sans, sans-serif" font-size="31" fill="#000" text-anchor="middle" textLength="269.9" lengthAdjust="spacingAndGlyphs">chr4 position (bp)</text>
<line x1="341" y1="1266.4" x2="1127.4" y2="1266.4" stroke="#00008B" stroke-width="2.8"/>
<path d="M335.00,1260.60 L340.70,1266.4 L335.00,1272.20 M352.49,1260.60 L358.19,1266.4 L352.49,1272.20 M369.98,1260.60 L375.68,1266.4 L369.98,1272.20 M387.47,1260.60 L393.17,1266.4 L387.47,1272.20 M404.96,1260.60 L410.66,1266.4 L404.96,1272.20 M422.45,1260.60 L428.15,1266.4 L422.45,1272.20 M439.94,1260.60 L445.64,1266.4 L439.94,1272.20 M457.43,1260.60 L463.13,1266.4 L457.43,1272.20 M474.92,1260.60 L480.62,1266.4 L474.92,1272.20 M492.41,1260.60 L498.11,1266.4 L492.41,1272.20 M509.90,1260.60 L515.60,1266.4 L509.90,1272.20 M527.39,1260.60 L533.09,1266.4 L527.39,1272.20 M544.88,1260.60 L550.58,1266.4 L544.88,1272.20 M562.37,1260.60 L568.07,1266.4 L562.37,1272.20 M579.86,1260.60 L585.56,1266.4 L579.86,1272.20 M597.35,1260.60 L603.05,1266.4 L597.35,1272.20 M614.84,1260.60 L620.54,1266.4 L614.84,1272.20 M632.33,1260.60 L638.03,1266.4 L632.33,1272.20 M649.82,1260.60 L655.52,1266.4 L649.82,1272.20 M667.31,1260.60 L673.01,1266.4 L667.31,1272.20 M684.80,1260.60 L690.50,1266.4 L684.80,1272.20 M702.29,1260.60 L707.99,1266.4 L702.29,1272.20 M719.78,1260.60 L725.48,1266.4 L719.78,1272.20 M737.27,1260.60 L742.97,1266.4 L737.27,1272.20 M754.76,1260.60 L760.46,1266.4 L754.76,1272.20 M772.25,1260.60 L777.95,1266.4 L772.25,1272.20 M789.74,1260.60 L795.44,1266.4 L789.74,1272.20 M807.23,1260.60 L812.93,1266.4 L807.23,1272.20 M824.72,1260.60 L830.42,1266.4 L824.72,1272.20 M842.21,1260.60 L847.91,1266.4 L842.21,1272.20 M859.70,1260.60 L865.40,1266.4 L859.70,1272.20 M877.19,1260.60 L882.89,1266.4 L877.19,1272.20 M894.68,1260.60 L900.38,1266.4 L894.68,1272.20 M912.17,1260.60 L917.87,1266.4 L912.17,1272.20 M929.66,1260.60 L935.36,1266.4 L929.66,1272.20 M947.15,1260.60 L952.85,1266.4 L947.15,1272.20 M964.64,1260.60 L970.34,1266.4 L964.64,1272.20 M982.13,1260.60 L987.83,1266.4 L982.13,1272.20 M999.62,1260.60 L1005.32,1266.4 L999.62,1272.20 M1017.11,1260.60 L1022.81,1266.4 L1017.11,1272.20 M1034.60,1260.60 L1040.30,1266.4 L1034.60,1272.20 M1052.09,1260.60 L1057.79,1266.4 L1052.09,1272.20 M1069.58,1260.60 L1075.28,1266.4 L1069.58,1272.20 M1087.07,1260.60 L1092.77,1266.4 L1087.07,1272.20 M1104.56,1260.60 L1110.26,1266.4 L1104.56,1272.20 M1122.05,1260.60 L1127.75,1266.4 L1122.05,1272.20" fill="none" stroke="#00008B" stroke-width="2.6" stroke-linejoin="miter"/>
<rect x="341.2" y="1257.9" width="21.9" height="17.1" fill="#00008B"/>
<rect x="995.7" y="1257.9" width="131.7" height="17.1" fill="#00008B"/>
<text x="733.4" y="1223.6" font-family="Liberation Sans, sans-serif" font-size="19" fill="#000" text-anchor="middle" textLength="45.6" lengthAdjust="spacingAndGlyphs">Gdf6</text>
<text x="1217.8" y="460" font-family="Liberation Sans, sans-serif" font-size="31" fill="#000" textLength="40.5" lengthAdjust="spacingAndGlyphs">bw</text>
<rect x="1219.1" y="480.2" width="43.7" height="43.8" fill="#001ECE"/>
<text x="1280.3" y="511.0" font-family="Liberation Sans, sans-serif" font-size="26" fill="#000" textLength="72.3" lengthAdjust="spacingAndGlyphs">E14_1</text>
<rect x="1219.1" y="528.2" width="43.7" height="43.8" fill="#001ECE"/>
<text x="1280.3" y="559.0" font-family="Liberation Sans, sans-serif" font-size="26" fill="#000" textLength="72.3" lengthAdjust="spacingAndGlyphs">E14_2</text>
<rect x="1219.1" y="576.2" width="43.7" height="43.8" fill="#E87300"/>
<text x="1280.3" y="607.0" font-family="Liberation Sans, sans-serif" font-size="26" fill="#000" textLength="72.3" lengthAdjust="spacingAndGlyphs">E17_1</text>
<rect x="1219.1" y="624.2" width="43.7" height="43.8" fill="#E87300"/>
<text x="1280.3" y="655.0" font-family="Liberation Sans, sans-serif" font-size="26" fill="#000" textLength="72.3" lengthAdjust="spacingAndGlyphs">E17_2</text>
<rect x="1219.1" y="672.2" width="43.7" height="43.8" fill="#000000"/>
<text x="1280.3" y="703.0" font-family="Liberation Sans, sans-serif" font-size="26" fill="#000" textLength="61.8" lengthAdjust="spacingAndGlyphs">Input</text>
</svg></body></html>
